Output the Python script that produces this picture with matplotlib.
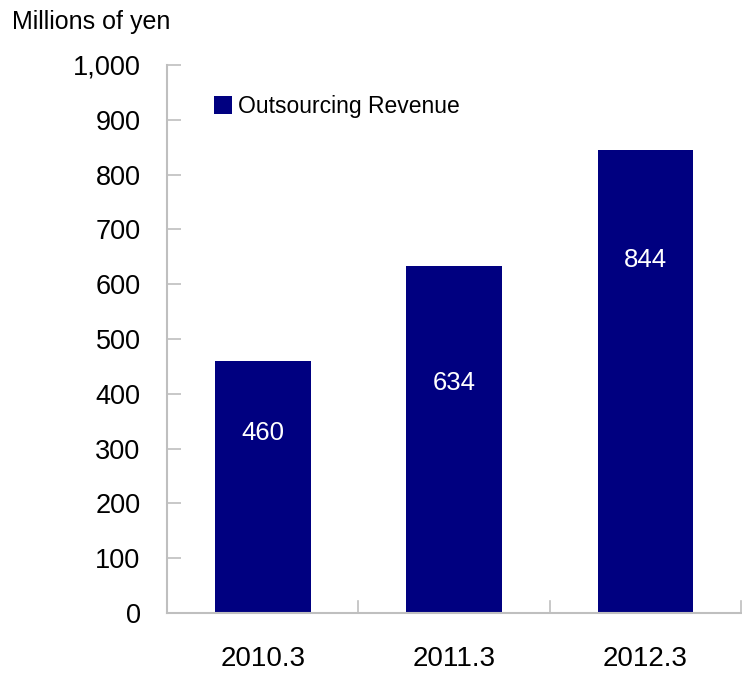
import matplotlib
matplotlib.use("Agg")
import matplotlib.pyplot as plt
from matplotlib.patches import Patch

categories = ["2010.3", "2011.3", "2012.3"]
revenue = [460, 634, 844]
series_name = "Outsourcing Revenue"
y_ticks = [0, 100, 200, 300, 400, 500, 600, 700, 800, 900, 1000]

# vertical placement of the value labels inside the bars (data units)
label_anchor = [329, 420, 644]

plt.rcParams["font.family"] = ["Liberation Sans", "DejaVu Sans"]

bar_color = "#000080"
axis_color = "#bfbfbf"

fig = plt.figure(figsize=(7.42, 6.75), dpi=100)
ax = fig.add_axes([167 / 742, 1 - 613 / 675, (741 - 167) / 742, (613 - 65) / 675])

x = list(range(len(categories)))
bars = ax.bar(x, revenue, width=0.5, color=bar_color, zorder=2)
for rect, v, ly in zip(bars, revenue, label_anchor):
    ax.text(rect.get_x() + rect.get_width() / 2, ly, f"{v}",
            ha="center", va="center", color="white", fontsize=18.5)

ax.set_xlim(-0.5, len(categories) - 0.5)
ax.set_ylim(0, 1000)
ax.set_yticks(y_ticks)
ax.set_yticklabels([f"{t:,}" for t in y_ticks], fontsize=19.5)
ax.set_xticks(x)
ax.set_xticklabels(categories, fontsize=20)
ax.tick_params(axis="x", length=0, pad=24)
ax.tick_params(axis="y", direction="in", length=10, width=1.2, color=axis_color, pad=19)

# category separators on the x axis
for b in [0.5, 1.5, 2.5]:
    ax.plot([b, b], [0, 22], color=axis_color, lw=1.2, clip_on=False, zorder=3)

for side in ["top", "right"]:
    ax.spines[side].set_visible(False)
for side in ["left", "bottom"]:
    ax.spines[side].set_color(axis_color)
    ax.spines[side].set_linewidth(1.5)

fig.text(12 / 742, 1 - 22 / 675, "Millions of yen", fontsize=18, va="center", ha="left")

handle = Patch(facecolor=bar_color, edgecolor="none")
ax.legend([handle], [series_name], loc="upper left", bbox_to_anchor=(0.066, 0.962),
          frameon=False, fontsize=16.5, handlelength=0.8, handleheight=0.8,
          handletextpad=0.25, borderaxespad=0)

fig.savefig("out.png", dpi=100, facecolor="white")
